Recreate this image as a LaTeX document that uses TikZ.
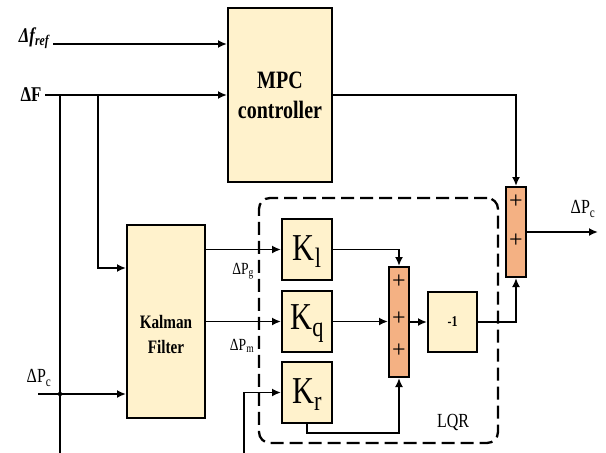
\documentclass[tikz,border=0pt]{standalone}
\usepackage{graphicx}
\usepackage{fontspec}
\setmainfont{Liberation Serif}
\usetikzlibrary{arrows.meta}
\definecolor{boxyel}{RGB}{255,242,204}
\definecolor{sumor}{RGB}{244,177,131}
\newcommand{\nt}[1]{\scalebox{0.8}[1]{#1}}
\newcommand{\kt}[1]{\scalebox{0.8}[1]{K{\fontsize{28}{28}\selectfont\raisebox{-7pt}{#1}}}}
\begin{document}
\begin{tikzpicture}[x=1pt,y=-1pt,
  >={Latex[length=9pt,width=8pt]},
  line width=1.8pt,
  blk/.style={draw=black, fill=boxyel, line width=2pt, inner sep=0pt},
  sumblk/.style={draw=black, fill=sumor, line width=2pt, inner sep=0pt, minimum width=20pt},
  kblk/.style={blk, minimum width=50pt, minimum height=61pt},
  plus/.style={font=\fontsize{24}{24}\selectfont, inner sep=0pt},
  lbl/.style={inner sep=0pt}
]
\useasboundingbox (0,0) rectangle (606,453);

% LQR dashed frame
\node[draw, line width=2.3pt, dash pattern=on 13pt off 6pt, rounded corners=11pt,
      minimum width=239pt, minimum height=245pt, inner sep=0pt] (lqr) at (378.5,320.5) {};
\node[lbl, font=\fontsize{20}{20}\selectfont] (lqrt) at (453,422) {\nt{LQR}};

% blocks
\node[blk, minimum width=104pt, minimum height=174pt] (mpc) at (280,95) {};
\node[align=center, font=\fontsize{25}{30}\selectfont\bfseries] (mpct) at (280,95) {\nt{MPC}\\\nt{controller}};

\node[blk, minimum width=78pt, minimum height=193pt] (kf) at (166,321.5) {};
\node[align=center, font=\fontsize{19}{25}\selectfont\bfseries] (kft) at (166,334) {\nt{Kalman}\\\nt{Filter}};

\node[kblk] (k1) at (307,249.5) {};
\node[kblk] (kq) at (307,321.5) {};
\node[kblk] (kr) at (307,392.5) {};
\node[font=\fontsize{38}{38}\selectfont] (k1t) at (307,252) {\kt{l}};
\node[font=\fontsize{38}{38}\selectfont] (kqt) at (307,324) {\kt{q}};
\node[font=\fontsize{38}{38}\selectfont] (krt) at (307,395) {\kt{r}};

\node[sumblk, minimum height=110pt] (s1) at (399,322) {};
\node[plus] (p11) at (399,282) {+};
\node[plus] (p12) at (399,319) {+};
\node[plus] (p13) at (399,351) {+};

\node[blk, minimum width=49pt, minimum height=60pt] (neg) at (452.5,322) {};
\node[font=\fontsize{15}{15}\selectfont\bfseries] (negt) at (452.5,322) {\nt{-1}};

\node[sumblk, minimum height=90pt] (s2) at (516,232) {};
\node[plus] (p21) at (516,202) {+};
\node[plus] (p22) at (516,241) {+};

% labels
\node[lbl, font=\fontsize{21}{21}\selectfont\bfseries\itshape] (fref) at (34,38) {\nt{Δf\textsubscript{ref}}};
\node[lbl, font=\fontsize{21}{21}\selectfont\bfseries] (dF) at (31,95) {\nt{ΔF}};
\node[lbl, font=\fontsize{20}{20}\selectfont] (pcl) at (39,378) {\nt{ΔP\textsubscript{c}}};
\node[lbl, font=\fontsize{17}{17}\selectfont] (pg) at (243,271) {\nt{ΔP\textsubscript{g}}};
\node[lbl, font=\fontsize{17}{17}\selectfont] (pm) at (242,346) {\nt{ΔP\textsubscript{m}}};
\node[lbl, font=\fontsize{20}{20}\selectfont] (pcr) at (583,209) {\nt{ΔP\textsubscript{c}}};

% coordinates
\coordinate (frefs) at (53,44);
\coordinate (Fs) at (45,95);
\coordinate (j1) at (60,95);
\coordinate (b1) at (60,453);
\coordinate (j2) at (98,95);
\coordinate (pcs) at (38,394);
\coordinate (dot) at (60,394);
\coordinate (krs) at (244,453);
\coordinate (pcout) at (598,232);

% connectors
\draw[->] (frefs) -- (frefs -| mpc.west);
\draw[->] (Fs) -- (mpc.west);
\draw (j1) -- (b1);
\draw[->] (j2) |- ([yshift=53.5pt]kf.west);
\draw[->] (pcs) -- (pcs -| kf.west);
\fill (dot) circle (2.2pt);
\draw[->] (kf.east |- k1) -- (k1.west);
\draw[->] (kf.east |- kq) -- (kq.west);
\draw[->] (krs) |- (kr.west);
\draw[->] (k1.east) -| (s1.north);
\draw[->] (kq.east) -- (kq.east -| s1.west);
\draw[->] (kr.south) -- ++(0,9) -| (s1.south);
\draw[->] (s1.east) -- (neg.west);
\draw[->] (neg.east) -| (s2.south);
\draw[->] (mpc.east) -| (s2.north);
\draw[->] (s2.east) -- (pcout);
\end{tikzpicture}
\end{document}
